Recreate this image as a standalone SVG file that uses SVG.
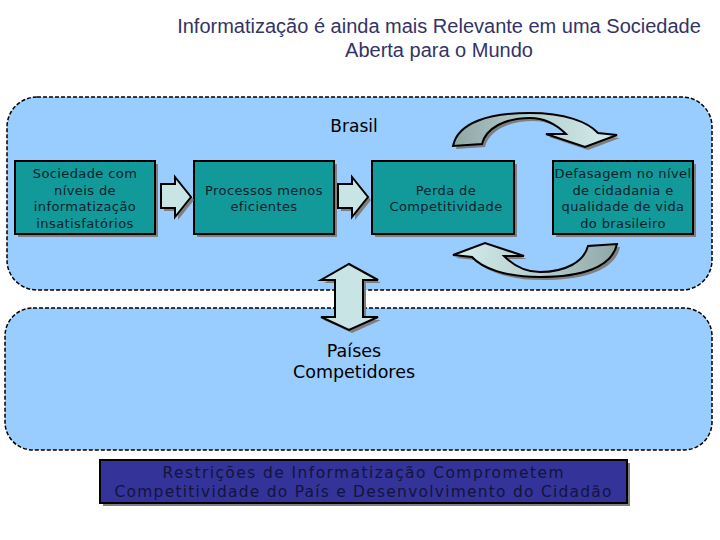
<svg xmlns="http://www.w3.org/2000/svg" width="720" height="540" viewBox="0 0 720 540">
<defs>
<linearGradient id="cg" x1="0" y1="0" x2="1" y2="0">
<stop offset="0" stop-color="#8ea6a6"/>
<stop offset="0.45" stop-color="#b4cccc"/>
<stop offset="1" stop-color="#d4eded"/>
</linearGradient>
<path id="curve" d="M453,146 C458,122 490,113 530,113 C565,113 588,122 598,133 L617,135 L585,147 L546,134 L566,134 C556,124 545,118 530,118 C505,118 486,128 482,144 Z"/>
</defs>
<style>
.panel{fill:#99ccff;stroke:#000;stroke-width:1.5;stroke-dasharray:4 2}
.box{fill:#129999;stroke:#000;stroke-width:2}
.shadow{fill:#7f7f7f}
.bt{font-family:"DejaVu Sans",Verdana,sans-serif;font-size:13px;letter-spacing:0.4px;fill:#0a1f2a;text-anchor:middle}
.arrow{fill:#c8e4e4;stroke:#000;stroke-width:2;stroke-linejoin:miter}
.title{font-family:"Liberation Sans",Arial,sans-serif;font-size:20px;fill:#333366;text-anchor:middle}
.lbl{font-family:"DejaVu Sans",Verdana,sans-serif;font-size:17px;fill:#000;text-anchor:middle}
.rt{font-family:"DejaVu Sans",Verdana,sans-serif;font-size:15.5px;fill:#14143c;text-anchor:middle}
</style>
<rect width="720" height="540" fill="#fff"/>
<g id="title">
<text class="title" x="439" y="33">Informatização é ainda mais Relevante em uma Sociedade</text>
<text class="title" x="439" y="57">Aberta para o Mundo</text>
</g>
<g id="brasil">
<rect class="panel" x="7" y="97" width="705" height="193" rx="30"/>
<text class="lbl" x="354" y="132">Brasil</text>
</g>
<g id="paises">
<rect class="panel" x="5" y="308" width="707" height="142" rx="28"/>
<text class="lbl" x="354" y="357" style="font-size:17.5px">Países</text>
<text class="lbl" x="354" y="378" style="font-size:17.5px">Competidores</text>
</g>
<g id="box1">
<rect class="shadow" x="18" y="164" width="140" height="73"/>
<rect class="box" x="15" y="161" width="140" height="73"/>
<text class="bt" x="85" y="178">Sociedade com</text>
<text class="bt" x="85" y="195">níveis de</text>
<text class="bt" x="85" y="211">informatização</text>
<text class="bt" x="85" y="228">insatisfatórios</text>
</g>
<g id="box2">
<rect class="shadow" x="197" y="164" width="140" height="73"/>
<rect class="box" x="194" y="161" width="140" height="73"/>
<text class="bt" x="264" y="195">Processos menos</text>
<text class="bt" x="264" y="211">eficientes</text>
</g>
<g id="box3">
<rect class="shadow" x="375" y="164" width="142" height="73"/>
<rect class="box" x="372" y="161" width="142" height="73"/>
<text class="bt" x="446" y="195">Perda de</text>
<text class="bt" x="446" y="211">Competitividade</text>
</g>
<g id="box4">
<rect class="shadow" x="556" y="164" width="140" height="73"/>
<rect class="box" x="553" y="161" width="140" height="73"/>
<text class="bt" x="623" y="178">Defasagem no nível</text>
<text class="bt" x="623" y="195">de cidadania e</text>
<text class="bt" x="623" y="211">qualidade de vida</text>
<text class="bt" x="623" y="228">do brasileiro</text>
</g>
<g id="restricoes">
<rect class="shadow" x="103" y="463" width="527" height="43"/>
<rect x="100" y="460" width="527" height="43" fill="#333399" stroke="#000" stroke-width="2"/>
<text class="rt" x="363" y="478" textLength="401" lengthAdjust="spacing">Restrições de Informatização Comprometem</text>
<text class="rt" x="363" y="497" textLength="497" lengthAdjust="spacing">Competitividade do País e Desenvolvimento do Cidadão</text>
</g>
<g id="connectors">
<path class="shadow" transform="translate(3 3)" d="M161,184 H175 V177 L191,197 L175,217 V208 H161 Z"/>
<path class="arrow" d="M161,184 H175 V177 L191,197 L175,217 V208 H161 Z"/>
<path class="shadow" transform="translate(3 3)" d="M338,184 H352 V177 L368,197 L352,217 V208 H338 Z"/>
<path class="arrow" d="M338,184 H352 V177 L368,197 L352,217 V208 H338 Z"/>
<path class="shadow" transform="translate(3 3)" d="M349,264 L378,280 H363 V317 H378 L349,330 L321,317 H335 V280 H321 Z"/>
<path class="arrow" d="M349,264 L378,280 H363 V317 H378 L349,330 L321,317 H335 V280 H321 Z"/>
<use href="#curve" class="shadow" transform="translate(3 3)"/>
<use href="#curve" fill="url(#cg)" stroke="#000" stroke-width="2"/>
<g transform="rotate(180 535 195)">
<use href="#curve" class="shadow" transform="translate(-3 -3)"/>
<use href="#curve" fill="url(#cg)" stroke="#000" stroke-width="2"/>
</g>
</g>
</svg>
